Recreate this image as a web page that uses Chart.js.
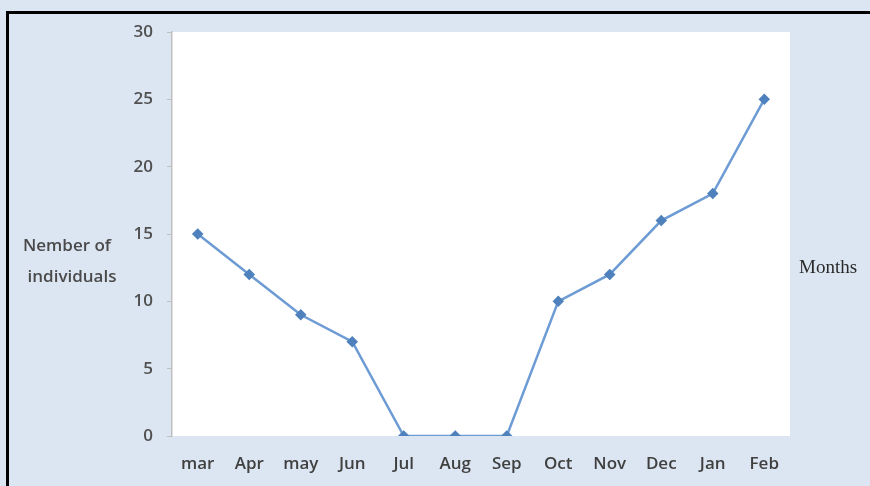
<!DOCTYPE html>
<html>
<head>
<meta charset="utf-8">
<script src="https://cdn.jsdelivr.net/npm/chart.js"></script>
<style>
  html, body { margin: 0; padding: 0; background: #dce6f2; }
  #wrap { width: 870px; height: 486px; }
</style>
</head>
<body>
<div id="wrap"><canvas id="monthChart" width="870" height="486"></canvas></div>
<script>
// data
const months = ['mar', 'Apr', 'may', 'Jun', 'Jul', 'Aug', 'Sep', 'Oct', 'Nov', 'Dec', 'Jan', 'Feb'];
const individuals = [15, 12, 9, 7, 0, 0, 0, 10, 12, 16, 18, 25];
const yTicks = [0, 5, 10, 15, 20, 25, 30];
const yTitleLines = ['Nember of', 'individuals'];
const xTitle = 'Months';

// background, frame and white plot area
const backdrop = {
    id: 'backdrop',
    beforeDraw(chart) {
        const ctx = chart.ctx;
        const a = chart.chartArea;
        ctx.save();
        ctx.fillStyle = '#dce6f2';
        ctx.fillRect(0, 0, chart.width, chart.height);
        ctx.fillStyle = '#000';
        ctx.fillRect(6, 11, 3, chart.height - 11);   // left edge
        ctx.fillRect(6, 11, chart.width - 6, 3);     // top edge
        ctx.fillStyle = '#ffffff';
        ctx.fillRect(a.left, a.top, a.right - a.left, a.bottom - a.top);
        ctx.restore();
    },
    afterDraw(chart) {
        const ctx = chart.ctx;
        ctx.save();
        ctx.fillStyle = '#4a4a4a';
        ctx.font = '600 17px "Open Sans", sans-serif';
        ctx.textAlign = 'center';
        ctx.textBaseline = 'middle';
        ctx.fillText(yTitleLines[0], 67, 246);
        ctx.fillText(yTitleLines[1], 72, 277);
        ctx.font = '19px "Liberation Serif", serif';
        ctx.fillStyle = '#2a2a2a';
        ctx.textAlign = 'left';
        ctx.fillText(xTitle, 799, 268);
        ctx.restore();
    }
};

let monthChart;

function initializeChart() {
    const ctx = document.getElementById('monthChart').getContext('2d');
    monthChart = new Chart(ctx, {
        type: 'line',
        data: {
            labels: months,
            datasets: [{
                label: 'Individuals',
                data: individuals,
                borderColor: '#6d9bd4',
                borderWidth: 2.5,
                pointStyle: 'rectRot',
                pointRadius: 4,
                pointBackgroundColor: '#4f81bd',
                pointBorderColor: '#4f81bd',
                fill: false,
                tension: 0
            }]
        },
        options: {
            responsive: false,
            animation: false,
            layout: { padding: { top: 32, right: 80, left: 0, bottom: 0 } },
            plugins: { legend: { display: false }, tooltip: { enabled: false } },
            scales: {
                x: {
                    offset: true,
                    grid: { display: false },
                    border: { display: false },
                    ticks: {
                        color: '#404040',
                        font: { family: '"Open Sans", sans-serif', size: 17, weight: '600' },
                        padding: 10,
                        maxRotation: 0,
                        autoSkip: false
                    },
                    afterFit(scale) { scale.height = 50; }
                },
                y: {
                    min: 0,
                    max: 30,
                    afterBuildTicks(scale) { scale.ticks = yTicks.map(v => ({ value: v })); },
                    grid: {
                        drawOnChartArea: false,
                        tickLength: 5,
                        color: '#c0c0c0'
                    },
                    border: { display: true, color: '#c0c0c0', width: 1.5 },
                    ticks: {
                        color: '#505050',
                        font: { family: '"Open Sans", sans-serif', size: 17, weight: '600' },
                        padding: 14
                    },
                    afterFit(scale) { scale.width = 172; }
                }
            }
        },
        plugins: [backdrop]
    });
}

document.addEventListener('DOMContentLoaded', () => {
    initializeChart();
});
</script>
</body>
</html>
